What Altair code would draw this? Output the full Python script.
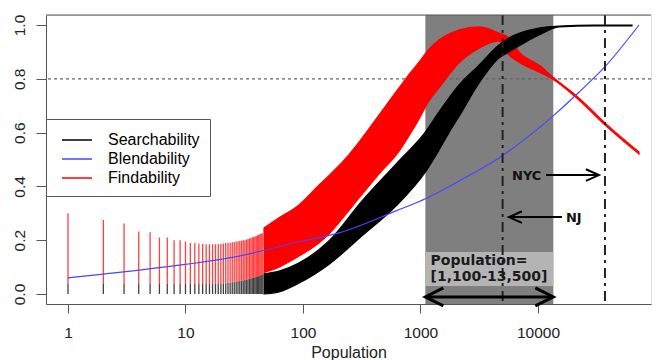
import altair as alt
import pandas as pd

# ---------------- data ----------------
# discrete (integer) populations drawn as vertical strokes
int_pop = list(range(1, 46))
int_black_top = [0.037] * 20 + [
    0.040, 0.040, 0.042, 0.042, 0.044, 0.045, 0.046, 0.047, 0.048, 0.050,
    0.050, 0.052, 0.053, 0.055, 0.056, 0.058, 0.060, 0.060, 0.062, 0.063,
    0.065, 0.066, 0.068, 0.070, 0.072]
int_red_top = [
    0.300, 0.275, 0.262, 0.232, 0.230, 0.210, 0.210, 0.200, 0.200, 0.195,
    0.190, 0.190, 0.188, 0.186, 0.185, 0.185, 0.185, 0.185, 0.186, 0.187,
    0.188, 0.190, 0.190, 0.190, 0.192, 0.193, 0.195, 0.196, 0.197, 0.198,
    0.200, 0.200, 0.202, 0.204, 0.206, 0.208, 0.210, 0.212, 0.214, 0.216,
    0.218, 0.220, 0.222, 0.224, 0.226]

# Findability cloud (red): lower / upper edge
red_pop = [46.6, 62.5, 92, 137, 166, 232, 300, 443, 656, 847, 971, 1181, 1437,
           2128, 3148, 4656, 5663, 6890, 10200, 13680, 22300, 37150, 72400]
red_hi = [0.245, 0.283, 0.330, 0.405, 0.440, 0.505, 0.565, 0.665, 0.766, 0.830,
          0.862, 0.910, 0.944, 0.981, 0.993, 0.970, 0.952, 0.900, 0.851, 0.803,
          0.729, 0.636, 0.528]
red_lo = [0.080, 0.100, 0.140, 0.190, 0.223, 0.297, 0.357, 0.446, 0.530, 0.606,
          0.650, 0.718, 0.766, 0.859, 0.914, 0.941, 0.888, 0.862, 0.825, 0.796,
          0.721, 0.628, 0.520]

# Searchability cloud (black): lower / upper edge
blk_pop = [46.6, 62.5, 92, 166, 318, 618, 1114, 1437, 1749, 2128, 3148, 4656,
           5663, 10200, 15100, 30000, 63100]
blk_hi = [0.075, 0.085, 0.115, 0.197, 0.346, 0.483, 0.606, 0.677, 0.729, 0.777,
          0.851, 0.926, 0.952, 0.989, 0.996, 1.000, 1.000]
blk_lo = [0.000, 0.008, 0.040, 0.110, 0.216, 0.327, 0.457, 0.535, 0.600, 0.660,
          0.784, 0.877, 0.900, 0.963, 0.993, 0.997, 0.997]

# Blendability curve (blue)
blend_pop = [1, 2, 10, 23.5, 100, 202, 620, 1114, 2130, 4650, 13700, 22300, 37000, 72400]
blend_val = [0.060, 0.074, 0.110, 0.134, 0.197, 0.227, 0.309, 0.355, 0.420, 0.506,
             0.665, 0.750, 0.844, 1.000]

series_names = ["Searchability", "Blendability", "Findability"]
series_colors = ["black", "#4646ff", "red"]

shade_range = [1100, 13500]
label_box = [0.030, 0.156]
box_text = ["Population=", "[1,100-13,500]"]
box_text_pop = [1218, 1218]
box_text_val = [0.108, 0.048]

nj_pop = 5000
nyc_pop = 37150
threshold = 0.8

# annotation arrows: (start, tip, level)
arrow_from = [11700, 16000]
arrow_to = [33000, 5660]
arrow_val = [0.442, 0.286]
arrow_names = ["NYC", "NJ"]
name_pop = [6010, 17300]
name_val = [0.440, 0.281]
range_arrow_val = -0.011

x_ticks = [1, 10, 100, 1000, 10000]
y_ticks = [0.0, 0.2, 0.4, 0.6, 0.8, 1.0]

# ---------------- chart ----------------
W, H = 605, 289
FONT = "Liberation Sans"
BFONT = "DejaVu Sans"

xscale = alt.Scale(type="log", domain=[0.65, 91573], nice=False)
yscale = alt.Scale(domain=[-0.0372, 1.0372], nice=False, zero=False)
xaxis = alt.Axis(values=x_ticks, format="d", title="Population", grid=False,
                 tickSize=9, labelPadding=12, labelFontSize=15.5, titleFontSize=16,
                 titleFontWeight="normal", titlePadding=4, labelFont=FONT,
                 titleFont=FONT, domainColor="#555", tickColor="#555",
                 labelColor="#222", titleColor="#222", labelFlush=False)
yaxis = alt.Axis(values=y_ticks, format=".1f", title=None, grid=False, tickSize=10,
                 labelPadding=9, labelFontSize=15.5, labelAngle=-90,
                 labelAlign="center", labelBaseline="bottom", labelFont=FONT,
                 domainColor="#555", tickColor="#555", labelColor="#222")


def X(f):
    return alt.X(f, type="quantitative", scale=xscale, axis=xaxis)


def Y(f):
    return alt.Y(f, type="quantitative", scale=yscale, axis=yaxis)


LEG_SYM = "M-0.5,0H2.5"
color = alt.Color("series:N", scale=alt.Scale(domain=series_names, range=series_colors),
                  legend=alt.Legend(title=None, orient="none", legendX=0, legendY=104,
                                    symbolType=LEG_SYM, symbolSize=400,
                                    symbolStrokeWidth=1.5, symbolOpacity=1,
                                    labelFontSize=16, labelFont=FONT, labelColor="black",
                                    labelOffset=30, padding=10, rowPadding=0,
                                    fillColor="white", strokeColor="#555"))

shade_df = pd.DataFrame({"pop": [shade_range[0]], "pop2": [shade_range[1]],
                         "lo": [label_box[0]], "hi": [label_box[1]]})

shade = alt.Chart(shade_df).mark_rect(color="#7f7f7f").encode(
    x=X("pop"), x2="pop2", y=alt.value(0), y2=alt.value(H))
lbox = alt.Chart(shade_df).mark_rect(color="#b4b4b4").encode(
    x=X("pop"), x2="pop2", y=Y("lo"), y2="hi")

thr = alt.Chart(pd.DataFrame({"val": [threshold]})).mark_rule(
    color="#666", strokeDash=[3, 3], strokeWidth=1.2).encode(y=Y("val"))

red_df = pd.DataFrame({"pop": red_pop, "lo": red_lo, "hi": red_hi})
blk_df = pd.DataFrame({"pop": blk_pop, "lo": blk_lo, "hi": blk_hi})

red_area = alt.Chart(red_df).mark_area(color="red", stroke="red", strokeWidth=1.2,
                                       interpolate="monotone").encode(
    x=X("pop"), y=Y("lo"), y2="hi")
blk_area = alt.Chart(blk_df).mark_area(color="black", stroke="black", strokeWidth=1.2,
                                       interpolate="monotone").encode(
    x=X("pop"), y=Y("lo"), y2="hi")

rows = []
for n, b, r in zip(int_pop, int_black_top, int_red_top):
    rows.append({"pop": n, "lo": 0.0, "hi": b, "series": "Searchability"})
    rows.append({"pop": n, "lo": b, "hi": r, "series": "Findability"})
rules_df = pd.DataFrame(rows)
rules = alt.Chart(rules_df).mark_rule(strokeWidth=1.3, opacity=0.75).encode(
    x=X("pop"), y=Y("lo"), y2="hi", color=color)

blend_df = pd.DataFrame({"pop": blend_pop, "val": blend_val, "series": "Blendability"})
blend = alt.Chart(blend_df).mark_line(strokeWidth=1.2, interpolate="monotone").encode(
    x=X("pop"), y=Y("val"), color=color)

vlines = alt.Chart(pd.DataFrame({"pop": [nj_pop, nyc_pop]})).mark_rule(
    color="#222", strokeWidth=2, strokeDash=[10, 5, 3, 5]).encode(x=X("pop"))

arr_df = pd.DataFrame({"pop": arrow_from, "pop2": arrow_to, "val": arrow_val})
arr_lines = alt.Chart(arr_df).mark_rule(color="black", strokeWidth=2).encode(
    x=X("pop"), x2="pop2", y=Y("val"))

CHEV = "M-1,-0.45L0,0L-1,0.45"
CHEV2 = "M-1,-0.5L0,0L-1,0.5"
head_df = pd.DataFrame({"pop": arrow_to, "val": arrow_val, "ang": [0, 180]})
heads = alt.Chart(head_df).mark_point(shape=CHEV, filled=False, size=676, color="black",
                                      strokeWidth=2, opacity=1).encode(
    x=X("pop"), y=Y("val"), angle=alt.Angle("ang:Q", scale=None))

rng_df = pd.DataFrame({"pop": [shade_range[0]], "pop2": [shade_range[1]],
                       "val": [range_arrow_val]})
rng_line = alt.Chart(rng_df).mark_rule(color="black", strokeWidth=3).encode(
    x=X("pop"), x2="pop2", y=Y("val"))
rng_head_df = pd.DataFrame({"pop": shade_range, "val": [range_arrow_val] * 2,
                            "ang": [180, 0]})
rng_heads = alt.Chart(rng_head_df).mark_point(shape=CHEV2, filled=False, size=1296,
                                              color="black", strokeWidth=3,
                                              opacity=1).encode(
    x=X("pop"), y=Y("val"), angle=alt.Angle("ang:Q", scale=None))

names_df = pd.DataFrame({"pop": name_pop, "val": name_val, "txt": arrow_names})
names = alt.Chart(names_df).mark_text(font=BFONT, fontWeight="bold", fontSize=13,
                                      align="left", baseline="middle",
                                      color="#111").encode(
    x=X("pop"), y=Y("val"), text="txt")

btext_df = pd.DataFrame({"pop": box_text_pop, "val": box_text_val, "txt": box_text})
btext = alt.Chart(btext_df).mark_text(font=BFONT, fontWeight="bold", fontSize=14,
                                      align="left", baseline="alphabetic",
                                      color="#1a1a1a").encode(
    x=X("pop"), y=Y("val"), text="txt")

frame_top = alt.Chart(pd.DataFrame({"a": [0]})).mark_rule(color="#555", strokeWidth=1).encode(
    x=alt.value(0), x2=alt.value(W), y=alt.value(0))

chart = alt.layer(
    shade, lbox, thr, red_area, blk_area, rules, blend, vlines,
    arr_lines, heads, rng_line, rng_heads, names, btext, frame_top
).properties(
    width=W, height=H, padding={"left": 3, "top": 6, "right": 0, "bottom": 0}
).configure_view(stroke=None).configure(background="white")

chart.save("out.html", embed_options={"renderer": "svg", "actions": False})
